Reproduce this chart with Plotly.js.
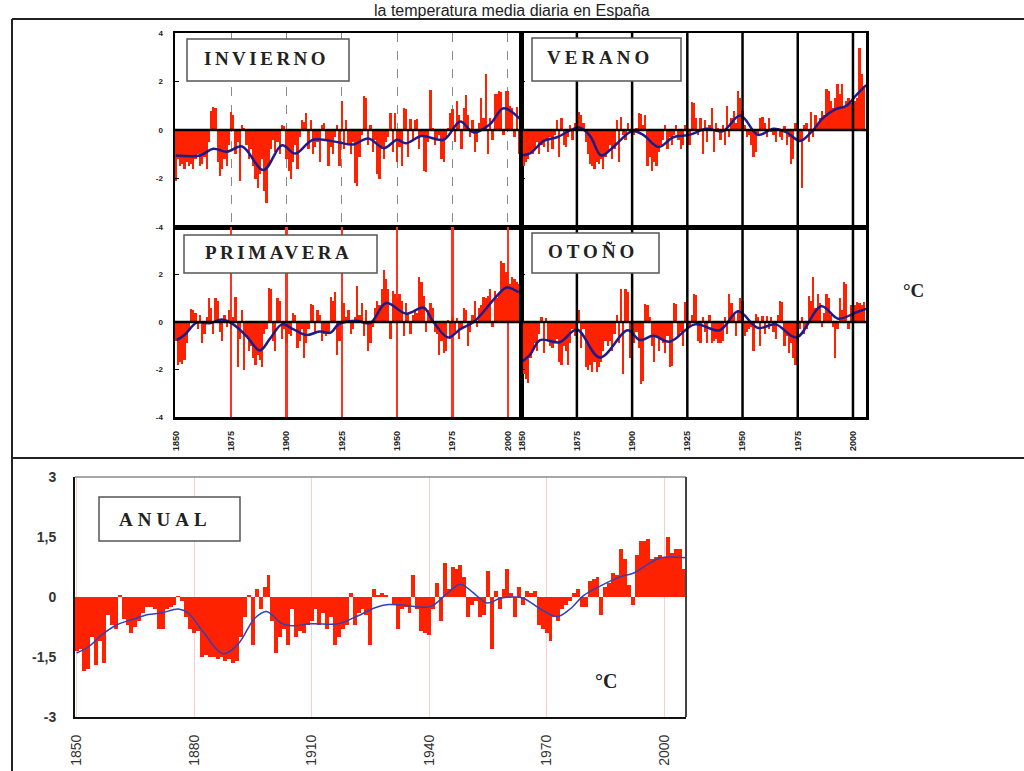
<!DOCTYPE html>
<html><head><meta charset="utf-8">
<script src="https://cdn.plot.ly/plotly-3.0.1.min.js"></script>
<style>html,body{margin:0;padding:0;background:#fff;overflow:hidden}</style>
</head><body>
<div id="chart" style="width:1024px;height:771px"></div>
<script>
// ---------- DATA ----------
const years = [
1850,1851,1852,1853,1854,1855,1856,1857,1858,1859,
1860,1861,1862,1863,1864,1865,1866,1867,1868,1869,
1870,1871,1872,1873,1874,1875,1876,1877,1878,1879,
1880,1881,1882,1883,1884,1885,1886,1887,1888,1889,
1890,1891,1892,1893,1894,1895,1896,1897,1898,1899,
1900,1901,1902,1903,1904,1905,1906,1907,1908,1909,
1910,1911,1912,1913,1914,1915,1916,1917,1918,1919,
1920,1921,1922,1923,1924,1925,1926,1927,1928,1929,
1930,1931,1932,1933,1934,1935,1936,1937,1938,1939,
1940,1941,1942,1943,1944,1945,1946,1947,1948,1949,
1950,1951,1952,1953,1954,1955,1956,1957,1958,1959,
1960,1961,1962,1963,1964,1965,1966,1967,1968,1969,
1970,1971,1972,1973,1974,1975,1976,1977,1978,1979,
1980,1981,1982,1983,1984,1985,1986,1987,1988,1989,
1990,1991,1992,1993,1994,1995,1996,1997,1998,1999,
2000,2001,2002,2003,2004,2005];

const winterVals = [
-2.1,-1.2,-1.5,-1.4,-1.6,-1.3,-1.5,-1.4,-1.6,-1.2,
-1.0,-1.5,-1.4,-1.1,-1.6,-0.5,0.8,0.95,0.9,-1.3,
-1.9,-1.6,-1.2,-1.5,-0.6,0.75,0.6,-1.0,-0.5,-2.1,
0.2,0.1,-0.6,-1.2,-0.8,-1.5,-2.0,-2.4,-1.8,-1.2,
-2.5,-3.0,-1.5,-0.8,-0.4,-0.9,-0.5,-1.0,0.2,0.15,
-1.2,-1.7,-2.0,-1.3,-0.6,-1.6,-0.3,0.4,0.35,0.7,
-0.8,0.4,-1.0,-0.7,-0.5,-1.3,0.2,0.3,-0.4,-1.5,
-0.7,-1.0,-0.3,0.2,-1.5,1.2,-0.8,0.4,-0.6,-1.0,
-0.5,-2.2,-2.3,-1.1,-0.2,1.4,1.3,-0.6,0.2,-0.9,
-0.4,-1.8,-2.0,-0.8,-1.2,-0.5,-0.3,0.7,-0.9,0.7,
-1.3,-0.7,-1.5,0.9,0.85,-1.1,0.45,-0.4,0.4,0.45,
-0.8,-0.3,-1.7,-1.75,-0.5,1.65,0.1,-0.6,-0.4,-0.2,
-1.2,-1.3,-0.3,0.1,0.7,0.85,-0.5,1.2,0.6,-0.8,
0.9,1.45,0.6,-0.3,0.4,-0.9,-0.5,0.3,1.3,0.5,
2.3,-1.0,0.5,-0.4,1.5,1.5,1.6,1.55,-0.2,1.6,
1.6,1.0,0.9,-0.3,0.95,-1.0];

const summerVals = [
-1.6,-1.5,-1.3,-1.2,-0.9,-1.0,-0.8,-0.5,-1.0,-0.6,
-0.7,-0.4,-0.9,-0.3,-0.8,-0.2,0.4,-1.1,0.5,-0.6,
-0.7,-0.3,0.2,-0.4,0.3,0.8,0.75,0.6,0.3,-0.5,
-1.0,-1.4,-1.5,-1.6,-1.3,-1.4,-1.2,-1.6,-1.1,-0.9,
-0.6,-1.2,-0.8,0.4,-1.3,0.55,-0.2,-0.4,0.3,-0.1,
0.3,-0.2,0.1,0.7,0.65,0.2,0.6,-1.5,-1.1,-1.7,
-1.3,-1.5,-0.9,-0.6,-0.4,0.2,-0.8,-0.3,-0.6,-0.2,
0.2,-0.4,-0.8,-0.6,0.2,-0.3,-0.6,1.15,1.1,0.5,
-0.2,0.5,-1.0,0.4,-0.5,0.2,0.9,-0.9,0.3,0.1,
-0.4,0.2,-0.6,1.0,-0.3,0.5,0.8,0.3,1.6,1.3,
0.8,0.2,-0.3,-0.2,-0.6,-1.1,-0.9,-0.2,0.5,0.55,
0.3,-0.3,0.5,-0.1,-0.2,-0.5,0.1,-0.3,-0.4,0.15,
-0.6,-0.3,-1.4,-1.2,0.3,0.4,-0.5,-2.4,0.2,0.3,
-0.5,0.75,-0.3,0.6,0.3,0.5,0.8,0.6,1.7,1.6,
1.2,0.9,1.3,1.9,1.5,1.9,1.0,1.2,1.3,1.1,
1.0,1.2,1.3,3.4,2.3,1.8];

const springVals = [
-0.8,-1.8,-1.7,-1.75,-1.6,-0.9,-0.3,0.55,0.5,0.4,
-0.3,0.3,-0.9,-0.5,0.2,1.0,0.6,-0.5,1.0,0.9,
-0.4,-0.8,0.3,-0.2,0.5,-0.3,0.2,1.05,-1.9,-0.7,
0.5,-2.0,-0.6,-1.2,-1.0,-1.5,-1.8,-1.4,-1.6,-1.9,
-0.5,-0.3,1.45,1.4,-0.8,-1.2,1.0,0.9,-0.7,-0.3,
-0.9,-0.5,-0.6,0.4,0.3,-1.1,-0.8,-0.3,-1.5,-0.9,
-0.3,0.75,0.7,-0.4,0.5,0.3,-0.8,-0.5,-0.6,-0.4,
1.05,0.9,1.25,-1.4,-0.8,0.9,0.8,0.2,0.5,-0.5,
-0.3,0.2,1.5,0.3,0.8,-0.6,0.5,-1.2,-0.9,-0.2,
0.6,0.9,0.7,1.4,2.2,1.8,1.4,-0.7,1.3,1.2,
1.0,1.2,0.9,-0.6,0.8,0.4,-0.5,0.3,0.5,0.4,
1.9,1.7,1.1,-0.4,0.5,0.8,0.6,-0.4,-0.5,-1.4,
-0.8,-1.3,-1.2,0.1,-0.7,0.2,-0.4,0.15,-0.7,-0.3,
0.6,0.5,-1.0,-0.4,0.3,0.9,-0.2,0.6,0.7,1.05,
1.0,1.1,1.4,-0.2,1.3,1.0,1.2,2.55,2.5,2.1,
2.1,1.6,1.9,1.8,1.7,1.6];

const autumnVals = [
-1.6,-2.2,-2.4,-2.55,-1.5,-1.2,-0.9,-1.2,-0.5,0.2,
-1.3,0.15,-0.8,-1.0,-1.1,-0.9,-0.7,-1.7,-1.8,-1.0,
-1.2,-1.8,-0.9,-0.3,-0.6,0.75,0.5,-1.1,-0.3,-1.9,
-2.0,-1.8,-2.1,-1.7,-2.1,-1.9,-1.7,-1.2,-0.8,-1.0,
-0.8,-1.2,-0.5,0.3,-0.9,1.4,-2.2,1.4,1.25,-1.5,
-2.1,-0.9,-0.4,-1.1,-2.6,-2.5,0.75,0.7,0.2,-1.0,
-1.7,-0.6,-1.2,-0.7,-0.9,-1.3,-0.6,-1.9,-1.85,0.8,
0.75,-0.6,-0.4,-1.0,0.85,-1.3,-0.2,0.3,1.2,1.15,
-0.8,-0.9,0.2,-0.4,-0.9,0.3,-0.9,-0.8,-0.7,-0.9,
-0.9,-0.8,0.2,-0.5,1.2,0.8,0.3,-0.6,0.5,1.0,
0.9,-0.6,-0.4,-0.3,-0.2,-1.2,0.35,0.2,-1.0,0.25,
-0.5,0.25,-0.3,0.2,-0.4,-0.7,0.3,0.9,0.85,-1.0,
-0.6,-1.3,-0.9,-1.5,-1.8,-1.6,-0.3,0.2,-0.5,-0.3,
1.1,0.9,1.9,0.6,1.2,0.8,-0.2,0.4,1.2,1.0,
0.3,-0.2,-1.5,-0.3,1.0,0.5,1.7,1.6,-0.3,0.7,
0.8,0.7,0.85,0.8,0.7,0.85];

const annualVals = [
-1.35,-1.3,-1.85,-1.8,-1.0,-1.7,-1.1,-1.65,-0.45,-0.7,
-0.8,0.05,-0.55,-0.7,-0.9,-0.75,-0.6,-0.4,-0.25,-0.25,
-0.3,-0.8,-0.8,-0.3,-0.25,-0.2,0.03,-0.1,-0.5,-0.8,
-0.9,-0.85,-1.5,-1.45,-1.5,-1.5,-1.55,-1.5,-1.6,-1.55,
-1.65,-1.6,-1.0,-0.5,0.05,-1.2,0.2,-0.3,0.25,0.55,
-0.6,-1.4,-1.0,-0.8,-1.2,-0.3,-1.0,-0.85,-0.9,-0.7,
-0.6,-0.3,-0.7,-0.4,-0.8,-0.5,-1.2,-1.0,-0.8,-0.7,
0.1,-0.7,-0.4,-0.3,-0.45,-1.2,0.2,0.05,0.1,0.05,
0.0,-0.2,-0.8,-0.3,-0.25,-0.4,0.55,-0.3,-0.85,-0.9,
-0.95,-0.3,0.35,-0.6,0.85,0.2,0.75,0.7,0.8,0.5,
-0.5,-0.2,-0.1,-0.5,-0.45,0.65,-1.3,0.15,-0.3,0.2,
0.7,0.1,-0.5,0.25,-0.2,0.15,0.1,0.15,-0.7,-0.8,
-0.9,-1.1,-0.5,-0.6,-0.3,-0.2,-0.1,0.1,0.2,-0.25,
-0.25,0.4,0.45,0.5,-0.45,0.25,0.35,0.6,0.55,1.2,
0.95,0.3,-0.2,1.05,1.4,1.4,1.45,0.95,1.0,1.05,
1.0,1.5,1.1,1.2,1.2,0.7];

// smoothed curves
const winterTrendYears = [1850,1861,1867,1873,1880,1889.6,1898,1904,1912,1923,1930,1937,1944,1950,1954,1961,1971,1978.5,1984.5,1992,1998,2005.5];
const winterTrendVals  = [-1.05,-1.05,-0.77,-0.9,-0.68,-1.65,-0.63,-0.97,-0.4,-0.5,-0.6,-0.35,-0.75,-0.4,-0.55,-0.25,-0.4,0.35,-0.1,0.25,0.9,0.45];
const summerTrendYears = [1850,1854,1860,1866,1876,1881,1886,1891.5,1900,1905,1912,1918.6,1926,1933.7,1941,1949,1957,1964,1970,1976,1981,1986.5,1992,1997,2001.6,2006];
const summerTrendVals  = [-1.05,-0.95,-0.45,-0.3,0.1,-0.25,-1.05,-0.7,-0.05,-0.2,-0.7,-0.3,-0.2,0.05,-0.05,0.6,-0.2,0.05,-0.1,-0.45,-0.1,0.5,0.85,1.0,1.45,1.85];
const springTrendYears = [1850.5,1854,1859.5,1865.5,1870.8,1876,1882,1888,1892.6,1898,1903,1909,1915,1920,1923.5,1931.8,1937.8,1945,1954,1962,1966,1973,1978.5,1984.5,1990.5,1995,1999.5,2004.8];
const springTrendVals  = [-0.76,-0.55,-0.03,-0.05,0.1,-0.1,-0.6,-1.2,-0.7,-0.1,-0.3,-0.55,-0.4,-0.45,-0.1,0.05,-0.05,0.8,0.35,0.6,0.05,-0.65,-0.3,0.0,0.6,1.1,1.45,1.25];
const autumnTrendYears = [1850,1853.8,1858.3,1867.3,1875,1885.4,1898,1903.5,1909.6,1917,1928.4,1939.7,1948,1957,1965,1974.4,1985.7,1993.3,2001.6,2006];
const autumnTrendVals  = [-1.68,-1.38,-0.76,-0.85,-0.32,-1.5,-0.35,-0.76,-0.58,-0.83,-0.1,-0.35,0.45,-0.25,-0.1,-0.65,0.66,0.14,0.41,0.55];
const annualTrendYears = [1850,1853,1856.4,1860.2,1864,1868.3,1871.7,1876,1878.5,1882.3,1887.4,1891.3,1895.5,1898.5,1902.3,1905,1910,1916.8,1921,1926.2,1929.6,1933,1940.3,1944.5,1948,1951,1954.8,1958,1961.6,1964.1,1968.4,1972.7,1976,1979.5,1983.8,1988.9,1992.3,1995.7,1999.1,2002.5,2005.5];
const annualTrendVals  = [-1.4,-1.25,-0.95,-0.7,-0.57,-0.44,-0.4,-0.3,-0.4,-0.87,-1.42,-1.17,-0.53,-0.36,-0.66,-0.72,-0.67,-0.67,-0.51,-0.27,-0.19,-0.2,-0.24,0.08,0.32,0.13,-0.15,-0.04,0.0,-0.03,-0.3,-0.49,-0.3,0.04,0.28,0.51,0.6,0.81,0.98,1.0,0.98];

const seasonTickVals = [1850,1875,1900,1925,1950,1975,2000];
const seasonTickText = ['1850','1875','1900','1925','1950','1975','2000'];
const annualTickVals = [1850,1880,1910,1940,1970,2000];
const annualTickText = ['1850','1880','1910','1940','1970','2000'];
const panelNames = ['INVIERNO','VERANO','PRIMAVERA','OTOÑO','ANUAL'];
const titleText = 'la temperatura media diaria en España';

// ---------- LAYOUT ----------
const W = 1024, H = 771;
const px = v => v / W;
const py = v => 1 - v / H;
const RED = '#ff2200', NAVY = '#1c1c8c';

function barTrace(vals, n){
  return {type:'bar', x:years, y:vals, xaxis:'x'+n, yaxis:'y'+n,
    marker:{color:RED, line:{width:0}}, hoverinfo:'skip'};
}
function lineTrace(xs, ys, n, color, width){
  return {type:'scatter', mode:'lines', x:xs, y:ys, xaxis:'x'+n, yaxis:'y'+n,
    line:{color:color, width:width, shape:'spline', smoothing:1}, hoverinfo:'skip'};
}

const data = [
  barTrace(winterVals,''), lineTrace(winterTrendYears, winterTrendVals,'',NAVY,2.5),
  barTrace(summerVals,'2'), lineTrace(summerTrendYears, summerTrendVals,'2',NAVY,2.5),
  barTrace(springVals,'3'), lineTrace(springTrendYears, springTrendVals,'3',NAVY,2.5),
  barTrace(autumnVals,'4'), lineTrace(autumnTrendYears, autumnTrendVals,'4',NAVY,2.5),
  barTrace(annualVals,'5'), lineTrace(annualTrendYears, annualTrendVals,'5','#3040b8',1.5)
];

const smallTick = {family:'Liberation Sans', size:8, color:'#222', weight:'bold'};
function seasonX(dom, anchor, showLabels, grid){
  const a = {domain:dom, anchor:anchor, range:[1849.7,2005.9], tickmode:'array', tickvals:seasonTickVals,
    ticktext:seasonTickText, showticklabels:showLabels, tickangle:-90, ticks:'',
    tickfont:{family:'Liberation Sans', size:9, color:'#222', weight:'bold'},
    ticklabelstandoff:8, showline:true, mirror:true, linecolor:'#000', linewidth:2.5,
    zeroline:false, showgrid:false, fixedrange:true};
  return Object.assign(a, grid||{});
}
function seasonY(dom, anchor, vals, texts, showLabels){
  return {domain:dom, anchor:anchor, range:[-4,4], tickmode:'array', tickvals:vals, ticktext:texts,
    showticklabels:showLabels, ticks:'inside', ticklen:4, tickcolor:'#000', tickwidth:1.5,
    tickfont:smallTick, ticklabelstandoff:8, showline:true, mirror:true,
    linecolor:'#000', linewidth:2.5, zeroline:false, showgrid:false, fixedrange:true};
}

const topRow = [py(227), py(33)];
const botRow = [py(417), py(227)];
const leftCol = [px(175), px(521)];
const rightCol = [px(521), px(866)];

const layout = {
  width:W, height:H, margin:{l:0,r:0,t:0,b:0}, showlegend:false,
  paper_bgcolor:'#fff', plot_bgcolor:'rgba(0,0,0,0)', bargap:0,
  xaxis: seasonX(leftCol,'y',false,{showgrid:true, gridcolor:'#8a8a8a', gridwidth:1, griddash:'dash'}),
  yaxis: seasonY(topRow,'x',[4,2,0,-2,-4],['4','2','0','-2','-4'],true),
  xaxis2: seasonX(rightCol,'y2',false),
  yaxis2: seasonY(topRow,'x2',[2,-2],['2','-2'],false),
  xaxis3: seasonX(leftCol,'y3',true,{showgrid:true, gridcolor:'#ff3322', gridwidth:2.5}),
  yaxis3: seasonY(botRow,'x3',[2,0,-2,-4],['2','0','-2','-4'],true),
  xaxis4: seasonX(rightCol,'y4',true),
  yaxis4: seasonY(botRow,'x4',[2,-2],['2','-2'],false),
  xaxis5: {domain:[px(75),px(686)], anchor:'y5', range:[1849.6,2005.6], tickmode:'array',
    tickvals:annualTickVals, ticktext:annualTickText, tickangle:-90, ticks:'',
    tickfont:{family:'Liberation Sans', size:14, color:'#333'}, ticklabelstandoff:10,
    showgrid:true, gridcolor:'#ffcccc', gridwidth:1, showline:true, linecolor:'#111',
    linewidth:2, zeroline:false, fixedrange:true},
  yaxis5: {domain:[py(717),py(477)], anchor:'x5', range:[-3,3], tickmode:'array',
    tickvals:[3,1.5,0,-1.5,-3], ticktext:['3','1,5','0','-1,5','-3'], ticks:'',
    tickfont:{family:'Liberation Sans', size:14, color:'#333', weight:'bold'},
    ticklabelstandoff:14, showgrid:false, showline:true, linecolor:'#111', linewidth:2,
    zeroline:false, fixedrange:true},
  shapes:[], annotations:[]
};

// frame lines
const frame = {color:'#222', width:2};
layout.shapes.push(
  {type:'line', xref:'paper', yref:'paper', x0:px(12), x1:1, y0:py(19), y1:py(19), line:frame, layer:'above'},
  {type:'line', xref:'paper', yref:'paper', x0:px(12), x1:px(12), y0:0, y1:py(19), line:frame, layer:'above'},
  {type:'line', xref:'paper', yref:'paper', x0:px(12), x1:1, y0:py(458), y1:py(458), line:frame, layer:'above'},
  // annual top/right borders
  {type:'line', xref:'paper', yref:'paper', x0:px(75), x1:px(686), y0:py(477), y1:py(477), line:{color:'#8a8a8a', width:1.5}, layer:'above'},
  {type:'line', xref:'paper', yref:'paper', x0:px(686), x1:px(686), y0:py(717), y1:py(477), line:{color:'#444', width:2}, layer:'above'}
);

// black vertical lines (verano, otoño) and zero lines
['2','4'].forEach(n => {
  seasonTickVals.forEach(v => layout.shapes.push({type:'line', xref:'x'+n, yref:'y'+n+' domain',
    x0:v, x1:v, y0:0, y1:1, line:{color:'#000', width:2.5}, layer:'above'}));
});
['','2','3','4'].forEach(n => layout.shapes.push({type:'line', xref:'x'+n+' domain', yref:'y'+n,
  x0:0, x1:1, y0:0, y1:0, line:{color:'#000', width:2.5}, layer:'above'}));

// label boxes
const boxes = [
  {x0:187,x1:349,y0:39,y1:81, tx:266, ty:59, sp:3.5},
  {x0:532,x1:681,y0:38,y1:81, tx:600, ty:58, sp:4},
  {x0:184,x1:377,y0:235,y1:273, tx:278, ty:253, sp:3.5},
  {x0:532,x1:659,y0:233,y1:273, tx:593, ty:252, sp:4},
  {x0:99,x1:240,y0:497,y1:541, tx:165, ty:519, sp:5}
];
boxes.forEach((b,i) => {
  layout.shapes.push({type:'rect', xref:'paper', yref:'paper', x0:px(b.x0), x1:px(b.x1),
    y0:py(b.y1), y1:py(b.y0), line:{color:'#555', width:1.5}, fillcolor:'#fff', layer:'above'});
  layout.annotations.push({xref:'paper', yref:'paper', x:px(b.tx), y:py(b.ty),
    xanchor:'center', yanchor:'middle', showarrow:false,
    text:'<span style="letter-spacing:'+b.sp+'px">'+panelNames[i]+'</span>',
    font:{family:'Liberation Serif', size:19, color:'#222', weight:'bold'}});
});

layout.annotations.push(
  {xref:'paper', yref:'paper', x:px(913), y:py(290), xanchor:'center', yanchor:'middle', showarrow:false,
   text:'°C', font:{family:'Liberation Serif', size:19, color:'#222', weight:'bold'}},
  {xref:'paper', yref:'paper', x:px(606), y:py(681), xanchor:'center', yanchor:'middle', showarrow:false,
   text:'°C', font:{family:'Liberation Serif', size:20, color:'#222', weight:'bold'}},
  {xref:'paper', yref:'paper', x:0.5, y:1, xanchor:'center', yanchor:'top', showarrow:false,
   text:titleText, font:{family:'Liberation Sans', size:16, color:'#222'}}
);

Plotly.newPlot('chart', data, layout, {displayModeBar:false, staticPlot:true});
</script>
</body></html>
